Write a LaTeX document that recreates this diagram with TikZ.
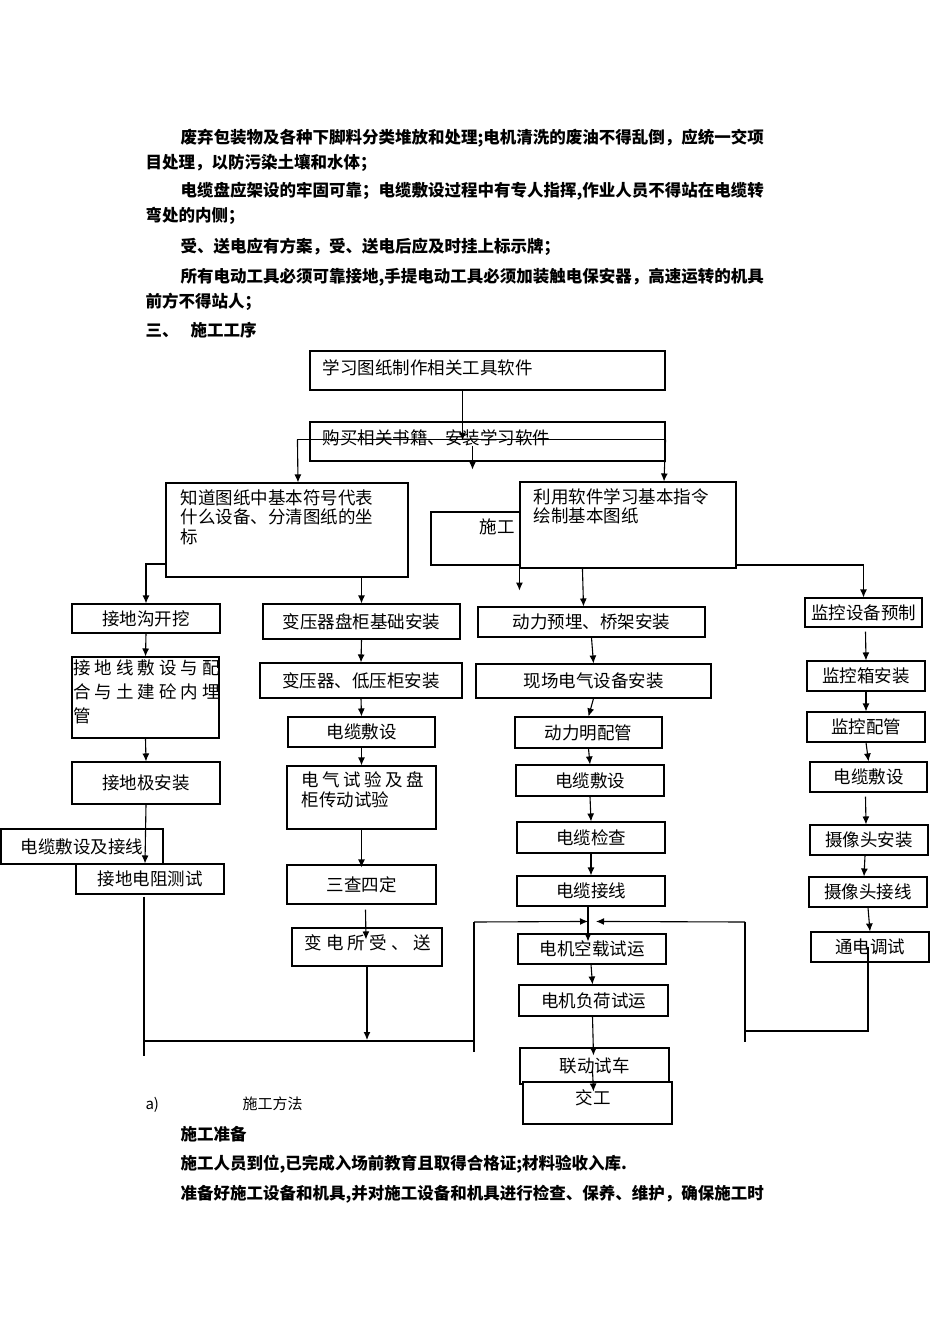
\documentclass[tikz,border=0pt]{standalone}
\usepackage{fontspec}
\setmainfont{Noto Sans CJK SC}
\usetikzlibrary{fit,calc,arrows.meta}
\newcommand\bx[6]{\node[fit={(#2,#3) (#4,#5)},draw,inner sep=0pt,fill=white] (#1) {};\node[boxtext] (#1t) at (#1.center) {#6};}
\newcommand\ebx[5]{\node[fit={(#2,#3) (#4,#5)},draw,inner sep=0pt,fill=white] (#1) {};}
\begin{document}
\begin{tikzpicture}[x=1pt,y=-1pt,line width=1.1pt,
 boxtext/.style={font=\fontsize{17.5}{20}\selectfont,inner sep=0pt},
 para/.style={anchor=base west,inner sep=0pt,font=\fontsize{16.5}{20}\selectfont\bfseries},
 arr/.style={-{Latex[length=8pt,width=7pt]}},
 ln/.style={}]
\useasboundingbox[fill=white] (0,0) rectangle (950,1344);
% paragraphs
\node[para] (p1) at (180,143) {废弃包装物及各种下脚料分类堆放和处理;电机清洗的废油不得乱倒，应统一交项};
\node[para] (p2) at (145,168) {目处理，以防污染土壤和水体；};
\node[para] (p3) at (180,196) {电缆盘应架设的牢固可靠；电缆敷设过程中有专人指挥,作业人员不得站在电缆转};
\node[para] (p4) at (145,221) {弯处的内侧；};
\node[para] (p5) at (180,252) {受、送电应有方案，受、送电后应及时挂上标示牌；};
\node[para] (p6) at (180,282) {所有电动工具必须可靠接地,手提电动工具必须加装触电保安器，高速运转的机具};
\node[para] (p7) at (145,307) {前方不得站人；};
\node[para] (p8) at (145,336) {三、\hspace{12pt}施工工序};
\node[para,font=\fontsize{15}{18}\selectfont] (a1) at (145,1109) {a)};
\node[para,font=\fontsize{15}{18}\selectfont] (a2) at (242,1109) {施工方法};
\node[para] (p9) at (180,1140) {施工准备};
\node[para] (p10) at (180,1169) {施工人员到位,已完成入场前教育且取得合格证;材料验收入库.};
\node[para] (p11) at (180,1199) {准备好施工设备和机具,并对施工设备和机具进行检查、保养、维护，确保施工时};
% top boxes
\ebx{B1}{310}{351}{665}{390}
\node[boxtext,anchor=west] (B1t) at (322,368) {学习图纸制作相关工具软件};
\ebx{B2}{310}{422}{665}{461}
\node[boxtext,anchor=west] (B2t) at (322,438) {购买相关书籍、安装学习软件};
\draw ($(B2.west)+(-12,-2)$) coordinate (c1) -- ($(B2.east)+(0,-2)$) coordinate (c2);
\ebx{B3}{166}{483}{408}{577}
\node[boxtext,anchor=north west,align=left,font=\fontsize{17.5}{19.5}\selectfont] (B3t) at (180,489) {知道图纸中基本符号代表\\什么设备、分清图纸的坐\\标};
\ebx{B4}{431}{512}{530}{565}
\node[boxtext,anchor=west] (B4t) at (479,527) {施工};
\ebx{B5}{520}{482}{736}{568}
\node[boxtext,anchor=north west,align=left,font=\fontsize{17.5}{19.5}\selectfont] (B5t) at (533,488) {利用软件学习基本指令\\绘制基本图纸};
\draw[arr] ($(B1.south)+(-25,0)$) -- ($(B1.south)+(-25,50)$);
\draw[arr] ($(B2.south)+(-15,-16)$) -- ($(B2.south)+(-15,8)$);
\draw[arr] (c1) -- ($(B3.north)+(11,0)$);
\draw[arr] (c2) -- ($(B5.north)+(36,0)$);
% left column
\bx{L1}{72}{604}{220}{633}{接地沟开挖}
\ebx{L2}{72}{657}{219}{738}
\node[boxtext,anchor=north west,align=left,font=\fontsize{17.5}{24}\selectfont,text width=146pt] (L2t) at (73,659) {接\hfill 地\hfill 线\hfill 敷\hfill 设\hfill 与\hfill 配\\合\hfill 与\hfill 土\hfill 建\hfill 砼\hfill 内\hfill 埋\\管};
\bx{L3}{72}{762}{220}{804}{接地极安装}
\bx{L4}{1}{829}{163}{864}{电缆敷设及接线}
\bx{L5}{76}{864}{224}{894}{接地电阻测试}
\draw[arr] (B3.west |- 0,564) -| (L1.north);
\draw[arr] (L1.south) -- (L2.north);
\draw[arr] (L2.south) -- (L3.north);
\draw[arr] (L3.south) -- ($(L5.north)+(-5,0)$);
% column 2
\bx{C1}{263}{604}{460}{639}{变压器盘柜基础安装}
\bx{C2}{260}{663}{462}{698}{变压器、低压柜安装}
\bx{C3}{288}{717}{435}{747}{电缆敷设}
\ebx{C4}{287}{766}{436}{829}
\node[boxtext,anchor=north west,align=left,font=\fontsize{17.5}{20}\selectfont,text width=122pt] (C4t) at (301,771) {电\hfill 气\hfill 试\hfill 验\hfill 及\hfill 盘\\柜传动试验};
\bx{C5}{287}{865}{436}{904}{三查四定}
\ebx{C6}{292}{928}{442}{966}
\node[boxtext,anchor=north west,text width=126pt] (C6t) at (304,934) {变\hfill 电\hfill 所\hfill 受\hfill 、\hfill 送};
\draw[arr] (B3.south -| C1.north) -- (C1.north);
\draw[arr] (C1.south) -- (C2.north);
\draw[arr] (C2.south) -- (C3.north);
\draw[arr] (C3.south) -- (C4.north);
\draw[arr] (C4.south) -- ($(C5.north)+(0,3)$);
\draw[arr] ($(C5.south)+(4,5)$) -- ($(C6.north)+(-1,12)$);
% right column
\bx{E1}{805}{598}{922}{627}{监控设备预制}
\bx{E2}{807}{661}{925}{691}{监控箱安装}
\bx{E3}{807}{712}{925}{742}{监控配管}
\bx{E4}{810}{762}{927}{792}{电缆敷设}
\bx{E5}{810}{825}{928}{855}{摄像头安装}
\bx{E6}{809}{877}{927}{907}{摄像头接线}
\bx{E7}{811}{932}{929}{962}{通电调试}
\draw[arr] ($(E1.south)+(2,4)$) -- ($(E2.north)+(0,0)$);
\draw[arr] (E2.south) -- (E3.north);
\draw[arr] (E3.south) -- (E4.north);
\draw[arr] ($(E4.south)+(-3,4)$) -- ($(E5.north)+(-3,0)$);
\draw[arr] ($(E5.south)+(-4,0)$) -- ($(E6.north)+(-4,0)$);
\draw[arr] (E6.south) -- (E7.north);
% column 3
\bx{D1}{478}{607}{705}{637}{动力预埋、桥架安装}
\bx{D2}{476}{664}{711}{698}{现场电气设备安装}
\bx{D3}{515}{717}{662}{748}{动力明配管}
\bx{D4}{516}{765}{664}{796}{电缆敷设}
\bx{D5}{517}{822}{665}{853}{电缆检查}
\bx{D6}{517}{876}{665}{906}{电缆接线}
\bx{D7}{518}{934}{666}{964}{电机空载试运}
\bx{D8}{519}{985}{668}{1016}{电机负荷试运}
\bx{D9}{520}{1048}{669}{1084}{联动试车}
\ebx{D10}{523}{1082}{672}{1124}
\node[boxtext] (D10t) at (593,1098) {交工};
\draw[arr] ($(B5.south west)$) -- ($(B5.south west)+(0,22)$);
\draw[arr] ($(B5.south west)+(63,0)$) -- ($(D1.north)+(-8,0)$);
\draw[arr] (B5.east |- 0,565) -| (E1.north);
\draw[arr] (D1.south) -- (D2.north);
\draw[arr] (D2.south) -- ($(D3.north)+(0,0)$);
\draw[arr] (D3.south) -- (D4.north);
\draw[arr] (D4.south) -- (D5.north);
\draw[arr] (D5.south) -- (D6.north);
\draw[arr] ($(D6.south)+(-3,0)$) -- ($(D7.north)+(-4,8)$);
\draw[arr] ($(D7.south)+(-1,0)$) -- ($(D8.north)+(-1,0)$);
\draw[arr] ($(D8.south)+(-1,0)$) -- ($(D9.north)+(-1,8)$);
\draw[arr] ($(D9.south)+(-2,-14)$) -- ($(D10.north)+(-4,10)$);
% merging lines
\coordinate (m1) at (144,1056);
\coordinate (m2) at (474,922);
\coordinate (m3) at (474,1052);
\coordinate (m4) at (745,922);
\coordinate (m5) at (745,1042);
\draw ($(L5.south)+(-6,2)$) -- (m1);
\draw (144,1041) -- (474,1041);
\draw[arr] (C6.south) -- (C6.south |- 0,1040);
\draw (m3) -- (m2);
\draw[arr] (m2) -- ($(D7.north)+(-4,-12)$);
\draw[arr] (m4) -- ($(D7.north)+(4,-12)$);
\draw (m4) -- (m5);
\draw (745,1031) -| ($(E7.center)+(-2,0)$);
\end{tikzpicture}
\end{document}
